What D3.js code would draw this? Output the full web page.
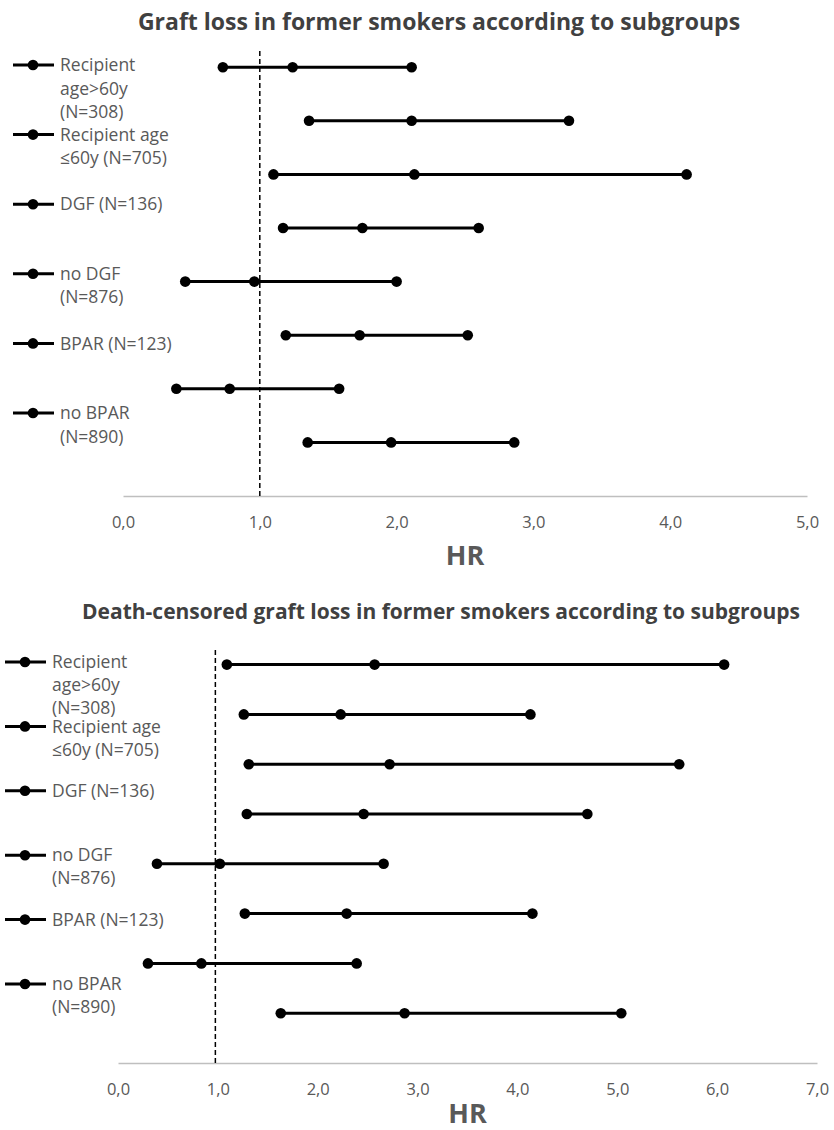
<!DOCTYPE html>
<html>
<head>
  <meta charset="utf-8">
  <script src="https://d3js.org/d3.v7.min.js"></script>
  <style>
    body { margin: 0; background: #fff; }
    text { font-family: "Open Sans", sans-serif; }
  </style>
</head>
<body>
<script>
  // Row values (top row first)
  var graftLow  = [0.73, 1.36, 1.10, 1.17, 0.455, 1.19, 0.39, 1.35];
  var graftHR   = [1.24, 2.11, 2.13, 1.75, 0.96, 1.73, 0.78, 1.96];
  var graftHigh = [2.11, 3.26, 4.12, 2.60, 2.00, 2.52, 1.58, 2.86];

  var dcLow  = [1.09, 1.26, 1.31, 1.29, 0.39, 1.27, 0.30, 1.63];
  var dcHR   = [2.57, 2.23, 2.72, 2.46, 1.02, 2.29, 0.835, 2.87];
  var dcHigh = [6.07, 4.13, 5.62, 4.70, 2.66, 4.15, 2.39, 5.04];

  var legendLabels = [
    ["Recipient", "age>60y", "(N=308)"],
    ["Recipient age", "\u226460y (N=705)"],
    ["DGF (N=136)"],
    ["no DGF", "(N=876)"],
    ["BPAR (N=123)"],
    ["no BPAR", "(N=890)"]
  ];

  var titles = [
    "Graft loss in former smokers according to subgroups",
    "Death-censored graft loss in former smokers according to subgroups"
  ];
  var xTicks1 = [0, 1, 2, 3, 4, 5];
  var xTicks2 = [0, 1, 2, 3, 4, 5, 6, 7];
  var refValues = [1.0, 0.975];

  var svg = d3.select("body").append("svg")
      .attr("width", 834)
      .attr("height", 1130);

  var fmt = d3.formatLocale({decimal: ",", thousands: ".", grouping: [3], currency: ["", ""]}).format(".1f");

  function drawChart(o) {
    var g = svg.append("g");
    var x = d3.scaleLinear().domain([0, o.xMax]).range([o.left, o.right]);
    var y = d3.scaleLinear().domain([0, 9]).range([o.axisY, o.axisY - 9 * o.step]);

    g.append("text")
      .attr("x", o.titleX).attr("y", o.titleY)
      .attr("text-anchor", "middle")
      .attr("dy", "0.35em")
      .style("font-size", o.titleSize + "px")
      .style("font-weight", "bold")
      .style("fill", "#404040")
      .text(o.title);

    // axis
    var ax = g.append("g")
      .attr("transform", "translate(0," + o.axisY + ")")
      .call(d3.axisBottom(x).tickValues(o.ticks).tickFormat(fmt).tickSize(0).tickPadding(20));
    ax.select(".domain").attr("stroke", "#bfbfbf").attr("stroke-width", 1.5);
    ax.selectAll("text")
      .style("font-size", "16.5px")
      .style("fill", "#595959")
      .style("font-family", "Open Sans, sans-serif");

    g.append("text")
      .attr("x", (o.left + o.right) / 2).attr("y", o.hrY)
      .attr("text-anchor", "middle").attr("dy", "0.35em")
      .style("font-size", "27px").style("font-weight", "bold")
      .style("fill", "#595959")
      .text("HR");

    // reference line
    g.append("line")
      .attr("x1", x(o.ref)).attr("x2", x(o.ref))
      .attr("y1", y(0)).attr("y2", y(8.3))
      .attr("stroke", "#000").attr("stroke-width", 1.5)
      .attr("stroke-dasharray", "5,3");

    var rows = o.low.map(function (d, i) {
      return {lo: d, hr: o.hr[i], hi: o.high[i], pos: 8 - i};
    });

    g.selectAll(".ci").data(rows).enter().append("line")
      .attr("x1", function (d) { return x(d.lo); })
      .attr("x2", function (d) { return x(d.hi); })
      .attr("y1", function (d) { return y(d.pos); })
      .attr("y2", function (d) { return y(d.pos); })
      .attr("stroke", "#000").attr("stroke-width", 3);

    rows.forEach(function (r) {
      g.selectAll(null).data([r.lo, r.hr, r.hi]).enter().append("circle")
        .attr("cx", function (d) { return x(d); })
        .attr("cy", y(r.pos))
        .attr("r", 5.3)
        .attr("fill", "#000");
    });

    // legend
    var lg = g.selectAll(".leg").data(legendLabels).enter().append("g")
      .attr("transform", function (d, i) { return "translate(" + o.legX + "," + (o.legY + i * o.legStep) + ")"; });
    lg.append("line").attr("x1", 0).attr("x2", 41).attr("stroke", "#000").attr("stroke-width", 3);
    lg.append("circle").attr("cx", 20).attr("r", 5.3).attr("fill", "#000");
    var t = lg.append("text")
      .attr("x", 47)
      .style("font-size", o.legSize + "px")
      .style("fill", "#595959");
    t.selectAll("tspan").data(function (d) { return d; }).enter().append("tspan")
      .attr("x", 47)
      .attr("y", function (d, i) { return i * o.lineH; })
      .attr("dy", "0.35em")
      .text(function (d) { return d; });
  }

  drawChart({
    title: titles[0], titleX: 439, titleY: 22, titleSize: 23,
    xMax: 5, ticks: xTicks1, left: 123, right: 807, axisY: 496, step: 53.6,
    hrY: 556, ref: refValues[0],
    low: graftLow, hr: graftHR, high: graftHigh,
    legX: 13, legY: 65, legStep: 69.6, legSize: 17.5, lineH: 23.5
  });

  drawChart({
    title: titles[1], titleX: 441, titleY: 612, titleSize: 21,
    xMax: 7, ticks: xTicks2, left: 118, right: 817, axisY: 1063, step: 49.8,
    hrY: 1114, ref: refValues[1],
    low: dcLow, hr: dcHR, high: dcHigh,
    legX: 5, legY: 662, legStep: 64.4, legSize: 17.5, lineH: 23
  });
</script>
</body>
</html>
